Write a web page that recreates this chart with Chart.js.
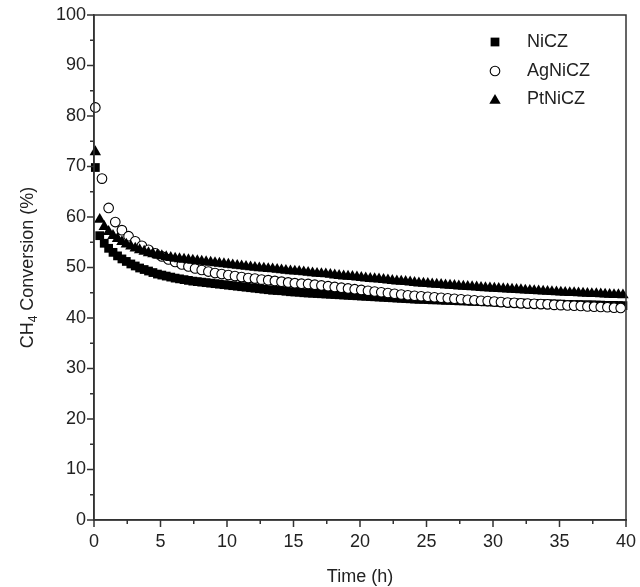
<!DOCTYPE html>
<html><head><meta charset="utf-8">
<script src="https://cdn.jsdelivr.net/npm/chart.js@4.4.1/dist/chart.umd.min.js"></script>
<style>html,body{margin:0;padding:0;background:#fff}#wrap{width:640px;height:587px;position:relative}</style>
</head><body><div id="wrap"><canvas id="c"></canvas></div>
<script>
const seriesNames = ['NiCZ', 'AgNiCZ', 'PtNiCZ'];
const xTitle = 'Time (h)';
const yTitleMain = 'CH', yTitleSub = '4', yTitleRest = ' Conversion (%)';
const xTickValues = [0, 5, 10, 15, 20, 25, 30, 35, 40];
const yTickValues = [0, 10, 20, 30, 40, 50, 60, 70, 80, 90, 100];

// 20-minute sampling (NiCZ, PtNiCZ), hours
const timeNiPt = [0.1,0.43,0.77,1.1,1.43,1.77,2.1,2.43,2.77,3.1,3.43,3.77,4.1,4.43,4.77,5.1,5.43,5.77,6.1,6.43,6.77,7.1,7.43,7.77,8.1,8.43,8.77,9.1,9.43,9.77,10.1,10.43,10.77,11.1,11.43,11.77,12.1,12.43,12.77,13.1,13.43,13.77,14.1,14.43,14.77,15.1,15.43,15.77,16.1,16.43,16.77,17.1,17.43,17.77,18.1,18.43,18.77,19.1,19.43,19.77,20.1,20.43,20.77,21.1,21.43,21.77,22.1,22.43,22.77,23.1,23.43,23.77,24.1,24.43,24.77,25.1,25.43,25.77,26.1,26.43,26.77,27.1,27.43,27.77,28.1,28.43,28.77,29.1,29.43,29.77,30.1,30.43,30.77,31.1,31.43,31.77,32.1,32.43,32.77,33.1,33.43,33.77,34.1,34.43,34.77,35.1,35.43,35.77,36.1,36.43,36.77,37.1,37.43,37.77,38.1,38.43,38.77,39.1,39.43,39.77];
// 30-minute sampling (AgNiCZ), hours
const timeAg = [0.1,0.6,1.1,1.6,2.1,2.6,3.1,3.6,4.1,4.6,5.1,5.6,6.1,6.6,7.1,7.6,8.1,8.6,9.1,9.6,10.1,10.6,11.1,11.6,12.1,12.6,13.1,13.6,14.1,14.6,15.1,15.6,16.1,16.6,17.1,17.6,18.1,18.6,19.1,19.6,20.1,20.6,21.1,21.6,22.1,22.6,23.1,23.6,24.1,24.6,25.1,25.6,26.1,26.6,27.1,27.6,28.1,28.6,29.1,29.6,30.1,30.6,31.1,31.6,32.1,32.6,33.1,33.6,34.1,34.6,35.1,35.6,36.1,36.6,37.1,37.6,38.1,38.6,39.1,39.6];

const valNiCZ = [
69.8,56.3,54.8,53.8,53.0,52.3,51.7,51.2,50.7,50.3,
49.9,49.6,49.3,49.0,48.7,48.5,48.3,48.1,47.9,47.75,
47.6,47.45,47.3,47.2,47.1,47.0,46.9,46.8,46.7,46.6,
46.5,46.4,46.3,46.2,46.1,46.0,45.9,45.8,45.7,45.6,
45.5,45.45,45.4,45.3,45.2,45.15,45.1,45.0,44.95,44.9,
44.85,44.8,44.75,44.7,44.65,44.6,44.55,44.5,44.45,44.4,
44.35,44.3,44.25,44.2,44.15,44.1,44.05,44.0,43.95,43.9,
43.85,43.8,43.75,43.7,43.7,43.65,43.6,43.6,43.55,43.5,
43.5,43.45,43.4,43.4,43.35,43.3,43.3,43.25,43.2,43.2,
43.15,43.1,43.1,43.05,43.0,43.0,42.95,42.95,42.9,42.9,
42.85,42.85,42.8,42.8,42.75,42.75,42.7,42.7,42.65,42.65,
42.6,42.6,42.6,42.55,42.55,42.5,42.5,42.5,42.45,42.45];

const valAgNiCZ = [
81.7,67.6,61.8,59.0,57.4,56.2,55.2,54.3,53.5,52.8,
52.2,51.6,51.1,50.6,50.2,49.8,49.5,49.2,48.9,48.7,
48.5,48.3,48.1,47.9,47.8,47.6,47.5,47.35,47.2,47.05,
46.9,46.8,46.75,46.6,46.45,46.3,46.15,46.0,45.85,45.7,
45.55,45.4,45.25,45.1,44.95,44.8,44.65,44.5,44.4,44.3,
44.2,44.1,44.0,43.9,43.8,43.7,43.6,43.5,43.4,43.35,
43.25,43.15,43.05,43.0,42.9,42.85,42.8,42.75,42.7,42.6,
42.55,42.5,42.45,42.4,42.3,42.25,42.2,42.15,42.05,42.0];

const valPtNiCZ = [
72.9,59.5,58.1,57.1,56.3,55.7,55.1,54.6,54.2,53.8,
53.5,53.2,52.9,52.7,52.5,52.3,52.1,51.95,51.8,51.7,
51.6,51.5,51.4,51.3,51.2,51.1,51.0,50.9,50.8,50.7,
50.6,50.5,50.4,50.3,50.2,50.1,50.0,49.9,49.85,49.75,
49.7,49.6,49.5,49.4,49.3,49.25,49.2,49.1,49.0,48.9,
48.8,48.75,48.7,48.6,48.5,48.4,48.3,48.25,48.2,48.1,
48.0,47.9,47.8,47.75,47.7,47.6,47.5,47.4,47.3,47.25,
47.2,47.1,47.0,46.9,46.85,46.8,46.7,46.65,46.6,46.5,
46.45,46.4,46.3,46.25,46.2,46.15,46.1,46.0,45.95,45.9,
45.85,45.8,45.75,45.7,45.65,45.6,45.55,45.5,45.45,45.4,
45.35,45.3,45.25,45.2,45.15,45.1,45.05,45.0,45.0,44.95,
44.9,44.85,44.8,44.8,44.75,44.7,44.65,44.6,44.6,44.55];

const FONT = '"Liberation Sans", Arial, Helvetica, sans-serif';
const INK = '#222';
const AXIS = '#333';

function pts(xs, ys) { return xs.map((x, i) => ({ x: x, y: ys[i] })); }

const styles = [
  { pointStyle: 'rect', radius: 6.2, bg: '#000', border: '#000', bw: 0 },
  { pointStyle: 'circle', radius: 4.8, bg: '#fff', border: '#000', bw: 1.1 },
  { pointStyle: 'triangle', radius: 6.6, bg: '#000', border: '#000', bw: 0 }
];

function drawMarker(ctx, st, x, y) {
  const opts = { pointStyle: st.pointStyle, radius: st.radius, rotation: 0, borderWidth: st.bw };
  ctx.save();
  ctx.fillStyle = st.bg; ctx.strokeStyle = st.border; ctx.lineWidth = st.bw;
  if (Chart.helpers && Chart.helpers.drawPoint) {
    Chart.helpers.drawPoint(ctx, opts, x, y);
  }
  ctx.restore();
}

const decor = {
  id: 'decor',
  afterDraw(chart) {
    const ctx = chart.ctx;
    const a = chart.chartArea;
    const xs = chart.scales.x, ys = chart.scales.y;
    ctx.save();
    // frame
    ctx.strokeStyle = AXIS; ctx.lineWidth = 1.5;
    ctx.strokeRect(a.left, a.top, a.right - a.left, a.bottom - a.top);
    // ticks
    ctx.beginPath();
    yTickValues.forEach(v => { const p = ys.getPixelForValue(v); ctx.moveTo(a.left - 7, p); ctx.lineTo(a.left, p); });
    for (let i = 0; i < yTickValues.length - 1; i++) {
      const p = ys.getPixelForValue((yTickValues[i] + yTickValues[i + 1]) / 2);
      ctx.moveTo(a.left - 4, p); ctx.lineTo(a.left, p);
    }
    xTickValues.forEach(v => { const p = xs.getPixelForValue(v); ctx.moveTo(p, a.bottom); ctx.lineTo(p, a.bottom + 7); });
    for (let i = 0; i < xTickValues.length - 1; i++) {
      const p = xs.getPixelForValue((xTickValues[i] + xTickValues[i + 1]) / 2);
      ctx.moveTo(p, a.bottom); ctx.lineTo(p, a.bottom + 4);
    }
    ctx.stroke();
    // x title
    ctx.fillStyle = INK;
    ctx.font = '18px ' + FONT;
    ctx.textAlign = 'center'; ctx.textBaseline = 'middle';
    ctx.fillText(xTitle, (a.left + a.right) / 2, 577);
    // y title with subscript
    ctx.save();
    ctx.translate(28, (a.top + a.bottom) / 2);
    ctx.rotate(-Math.PI / 2);
    ctx.textAlign = 'left'; ctx.textBaseline = 'middle';
    ctx.font = '18px ' + FONT;
    const w1 = ctx.measureText(yTitleMain).width;
    const w3 = ctx.measureText(yTitleRest).width;
    ctx.font = '12px ' + FONT;
    const w2 = ctx.measureText(yTitleSub).width;
    let x0 = -(w1 + w2 + w3) / 2;
    ctx.font = '18px ' + FONT;
    ctx.fillText(yTitleMain, x0, 0);
    ctx.font = '12px ' + FONT;
    ctx.fillText(yTitleSub, x0 + w1, 6);
    ctx.font = '18px ' + FONT;
    ctx.fillText(yTitleRest, x0 + w1 + w2, 0);
    ctx.restore();
    // legend
    const ly = [42, 71, 99];
    seriesNames.forEach((name, i) => {
      drawMarker(ctx, styles[i], 495, ly[i] + (i === 2 ? 1.5 : 0));
      ctx.fillStyle = INK;
      ctx.font = '18px ' + FONT;
      ctx.textAlign = 'left'; ctx.textBaseline = 'middle';
      ctx.fillText(name, 527, ly[i]);
    });
    ctx.restore();
  }
};

const dataSets = [
  { x: timeNiPt, y: valNiCZ, order: 2 },
  { x: timeAg, y: valAgNiCZ, order: 1 },
  { x: timeNiPt, y: valPtNiCZ, order: 0 }
];

new Chart(document.getElementById('c'), {
  type: 'scatter',
  data: {
    datasets: dataSets.map((d, i) => ({
      label: seriesNames[i],
      data: pts(d.x, d.y),
      order: d.order,
      pointStyle: styles[i].pointStyle,
      pointRadius: styles[i].radius,
      pointBackgroundColor: styles[i].bg,
      pointBorderColor: styles[i].border,
      pointBorderWidth: styles[i].bw,
      showLine: false,
      clip: false
    }))
  },
  options: {
    responsive: true,
    maintainAspectRatio: false,
    animation: false,
    events: [],
    layout: { padding: { left: 0, right: 14, top: 15, bottom: 0 } },
    plugins: { legend: { display: false }, tooltip: { enabled: false } },
    scales: {
      x: {
        type: 'linear', min: 0, max: 40,
        afterFit: s => { s.height = 67; s.paddingLeft = 0; s.paddingRight = 0; },
        afterBuildTicks: s => { s.ticks = xTickValues.map(v => ({ value: v })); },
        grid: { display: false, drawOnChartArea: false, drawTicks: false },
        border: { display: true, color: AXIS, width: 1.5 },
        ticks: { padding: 11, color: INK, font: { family: FONT, size: 18 }, maxRotation: 0, autoSkip: false }
      },
      y: {
        type: 'linear', min: 0, max: 100,
        afterFit: s => { s.width = 94; s.paddingTop = 0; s.paddingBottom = 0; },
        afterBuildTicks: s => { s.ticks = yTickValues.map(v => ({ value: v })); },
        grid: { display: false, drawOnChartArea: false, drawTicks: false },
        border: { display: true, color: AXIS, width: 1.5 },
        ticks: { padding: 8, color: INK, font: { family: FONT, size: 18 }, autoSkip: false }
      }
    }
  },
  plugins: [decor]
});
</script>
</body></html>
